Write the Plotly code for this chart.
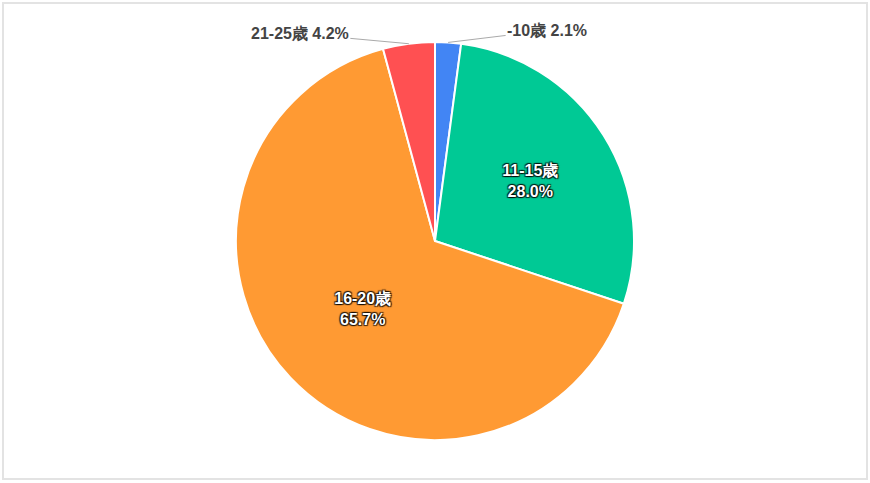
import math
import plotly.graph_objects as go

# 年齢層ごとの割合
labels = ['-10歳', '11-15歳', '16-20歳', '21-25歳']
values = [2.1, 28.0, 65.7, 4.2]
colors = ['#4285F4', '#00C995', '#FF9A33', '#FF5052']
inside = [False, True, True, False]

W, H = 870, 483
cx, cy, r = 435, 241, 199  # 円の中心と半径 (px)

texts = []
for lab, v, ins in zip(labels, values, inside):
    if ins:
        texts.append('%{label}<br>%{percent:.1%}')
    else:
        texts.append('')

fig = go.Figure()
fig.add_trace(go.Pie(
    labels=labels,
    values=values,
    sort=False,
    direction='clockwise',
    rotation=0,
    marker=dict(colors=colors, line=dict(color='white', width=2)),
    textposition='inside',
    texttemplate=texts,
    insidetextorientation='horizontal',
    insidetextfont=dict(family='Arial, Liberation Sans', size=16, color='white',
                        weight='bold', shadow='1px 1px 1px rgba(0,0,0,0.75), -1px -1px 1px rgba(0,0,0,0.75), 1px -1px 1px rgba(0,0,0,0.75), -1px 1px 1px rgba(0,0,0,0.75)'),
    domain=dict(x=[0, 1], y=[1 - (cy + r) / H, 1 - (cy - r) / H]),
    showlegend=False,
    hoverinfo='label+percent',
))

# 小さい扇形は引き出し線付きのラベル
total = sum(values)
offsets = {0: (99, -12), 3: (-109, -10)}
acc = 0
for i, v in enumerate(values):
    mid = (acc + v / 2) / total * 2 * math.pi
    acc += v
    if inside[i]:
        continue
    tx = cx + r * math.sin(mid)
    ty = cy - r * math.cos(mid)
    fig.add_annotation(
        x=tx / W, y=1 - ty / H, xref='paper', yref='paper',
        text=f'{labels[i]} {v / total * 100:.1f}%',
        showarrow=True, arrowhead=0, arrowwidth=1, arrowcolor='#AAAAAA',
        ax=offsets[i][0], ay=offsets[i][1],
        font=dict(family='Arial, Liberation Sans', size=16, color='#444444', weight='bold'),
    )

fig.add_shape(type='rect', xref='paper', yref='paper',
              x0=3 / W, x1=867 / W, y0=1 - 479 / H, y1=1 - 3 / H,
              line=dict(color='#E3E3E3', width=2))

fig.update_layout(
    width=W, height=H,
    margin=dict(l=0, r=0, t=0, b=0),
    paper_bgcolor='white',
    plot_bgcolor='white',
)

fig.write_html("out.html", config={'displayModeBar': False},
               post_script="document.body.style.margin='0';")
